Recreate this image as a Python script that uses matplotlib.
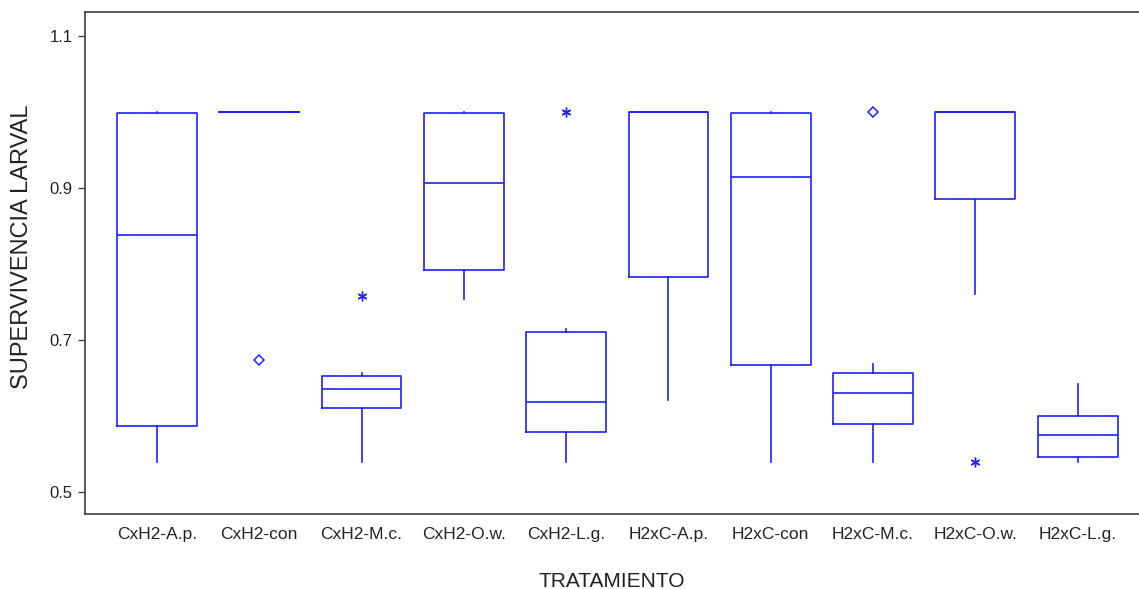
import numpy as np
import matplotlib
matplotlib.use("Agg")
import matplotlib.pyplot as plt

plt.rcParams["font.family"] = ["Liberation Sans", "DejaVu Sans"]

# treatments and box statistics
tratamientos = ["CxH2-A.p.", "CxH2-con", "CxH2-M.c.", "CxH2-O.w.", "CxH2-L.g.",
                "H2xC-A.p.", "H2xC-con", "H2xC-M.c.", "H2xC-O.w.", "H2xC-L.g."]
whislo = [0.539, 1.000, 0.539, 0.754, 0.539, 0.621, 0.539, 0.539, 0.761, 0.539]
q1 = [0.587, 1.000, 0.610, 0.792, 0.579, 0.783, 0.667, 0.589, 0.885, 0.546]
med = [0.838, 1.000, 0.636, 0.906, 0.618, 1.000, 0.914, 0.630, 1.000, 0.575]
q3 = [0.999, 1.000, 0.653, 0.999, 0.710, 1.000, 0.999, 0.657, 1.000, 0.600]
whishi = [1.000, 1.000, 0.657, 1.000, 0.715, 1.000, 1.000, 0.669, 1.000, 0.642]
# outliers: diamonds and asterisks
out_diamond = [[], [0.674], [], [], [], [], [], [1.000], [], []]
out_star = [[], [], [0.758], [], [1.000], [], [], [], [0.540], []]

blue = "#1f1fff"
pos = np.arange(1, len(tratamientos) + 1)

fig = plt.figure(figsize=(11.39, 5.89), dpi=100)
ax = fig.add_axes([0.0746, 0.1273, 0.9254, 0.8523])

stats = []
for i, name in enumerate(tratamientos):
    stats.append(dict(label=name, whislo=whislo[i], q1=q1[i], med=med[i],
                      q3=q3[i], whishi=whishi[i], fliers=[]))

lp = dict(color=blue, linewidth=1.2)
ax.bxp(stats, positions=pos, widths=0.78, showcaps=False, showfliers=False,
       boxprops=lp, whiskerprops=lp, medianprops=lp)

for i in range(len(tratamientos)):
    if out_diamond[i]:
        ax.plot([pos[i]] * len(out_diamond[i]), out_diamond[i], linestyle="none",
                marker="D", markersize=5, markerfacecolor="none",
                markeredgecolor=blue, markeredgewidth=1.1)
    if out_star[i]:
        ax.plot([pos[i]] * len(out_star[i]), out_star[i], linestyle="none",
                marker=(6, 2, 0), markersize=7, color=blue, markeredgewidth=1.0)

ax.set_xlim(0.296, 10.6)
ax.set_ylim(0.471, 1.1316)
ax.set_yticks([0.5, 0.7, 0.9, 1.1])
ax.set_yticklabels(["0.5", "0.7", "0.9", "1.1"])
ax.set_xticks(pos)
ax.set_xticklabels(tratamientos)

for s in ["top", "left", "bottom"]:
    ax.spines[s].set_color("#404040")
    ax.spines[s].set_linewidth(1.2)
ax.spines["right"].set_visible(False)

ax.tick_params(axis="y", length=5, width=1, color="#404040", labelsize=12,
               labelcolor="#222222", pad=4)
ax.tick_params(axis="x", length=0, labelsize=12.5, labelcolor="#222222", pad=9)

ax.set_xlabel("TRATAMIENTO", fontsize=15, color="#222222", labelpad=22)
ax.set_ylabel("SUPERVIVENCIA LARVAL", fontsize=17, color="#222222")
ax.yaxis.set_label_coords(-0.049, 0.532)

fig.savefig("out.png", dpi=100)
